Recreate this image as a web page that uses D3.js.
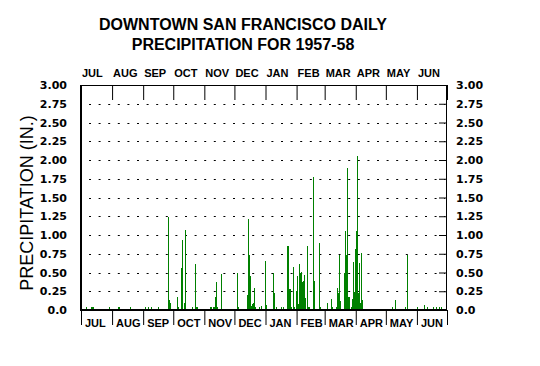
<!DOCTYPE html>
<html>
<head>
<meta charset="utf-8">
<script src="https://cdn.jsdelivr.net/npm/d3@7"></script>
<style>
body { margin: 0; background: #fff; }
text { font-family: "Liberation Sans", Arial, sans-serif; }
</style>
</head>
<body>
<div id="vis"></div>
<script>
// daily totals (inches), only the days with rain
var rainDays = [
	"1957-07-06","1957-07-11","1957-07-12","1957-07-13","1957-07-29",
	"1957-08-07","1957-08-08","1957-08-19",
	"1957-09-03","1957-09-06","1957-09-09","1957-09-16","1957-09-26","1957-09-27","1957-09-28",
	"1957-10-05","1957-10-06","1957-10-09","1957-10-10","1957-10-12","1957-10-13","1957-10-20","1957-10-23","1957-10-24","1957-10-25",
	"1957-11-07","1957-11-08","1957-11-10","1957-11-11","1957-11-12","1957-11-13","1957-11-14","1957-11-18",
	"1957-12-04","1957-12-05","1957-12-14","1957-12-15","1957-12-16","1957-12-17","1957-12-18","1957-12-19","1957-12-20","1957-12-21","1957-12-22","1957-12-26","1957-12-28",
	"1958-01-01","1958-01-02","1958-01-09","1958-01-10","1958-01-12","1958-01-17","1958-01-19","1958-01-23","1958-01-24","1958-01-25","1958-01-26","1958-01-27","1958-01-29","1958-01-30",
	"1958-02-01","1958-02-02","1958-02-03","1958-02-04","1958-02-05","1958-02-06","1958-02-07","1958-02-08","1958-02-09","1958-02-10","1958-02-12","1958-02-13","1958-02-14","1958-02-18","1958-02-19","1958-02-24","1958-02-25",
	"1958-03-04","1958-03-08","1958-03-09","1958-03-13","1958-03-14","1958-03-15","1958-03-16","1958-03-17","1958-03-21","1958-03-22","1958-03-23","1958-03-24","1958-03-25","1958-03-26","1958-03-28","1958-03-29","1958-03-30","1958-03-31",
	"1958-04-01","1958-04-02","1958-04-03","1958-04-04","1958-04-05","1958-04-06","1958-04-07","1958-04-08",
	"1958-05-08","1958-05-11","1958-05-21","1958-05-23",
	"1958-06-02","1958-06-09","1958-06-12","1958-06-18","1958-06-21","1958-06-24","1958-06-26"
];
var rainInches = [
	0.01,0.01,0.02,0.01,0.01,
	0.01,0.01,0.01,
	0.01,0.01,0.01,0.01,1.24,0.13,0.09,
	0.17,0.01,0.56,0.93,0.09,1.07,0.04,0.61,0.02,0.02,
	0.03,0.04,0.04,0.03,0.17,0.37,0.04,0.48,
	0.50,0.01,0.20,1.21,0.73,0.46,0.05,0.08,0.10,0.29,0.04,0.04,0.05,
	0.66,0.07,0.50,0.23,0.03,0.02,0.02,0.85,0.86,0.28,0.28,0.02,0.58,0.01,
	0.26,0.46,0.08,0.62,0.50,0.51,0.37,0.39,0.47,0.16,0.85,0.03,0.01,1.77,0.39,0.89,0.04,
	0.09,0.15,0.04,0.01,0.29,0.23,0.73,0.12,0.50,1.05,0.74,1.90,0.17,0.17,0.04,0.15,0.64,0.24,
	0.82,1.05,2.05,0.23,0.63,0.10,0.76,0.13,
	0.02,0.13,0.01,0.73,
	0.02,0.07,0.01,0.01,0.01,0.01,0.01
];
var monthNames = ["JUL","AUG","SEP","OCT","NOV","DEC","JAN","FEB","MAR","APR","MAY","JUN"];
var yTicks = [0, 0.25, 0.5, 0.75, 1, 1.25, 1.5, 1.75, 2, 2.25, 2.5, 2.75, 3];
var yTickLabels = ["0.0","0.25","0.50","0.75","1.00","1.25","1.50","1.75","2.00","2.25","2.50","2.75","3.00"];

var W = 540, H = 366;
var plotL = 81, plotR = 447, plotT = 85, plotB = 310;

var parse = d3.timeParse("%Y-%m-%d");
var start = new Date(1957, 6, 1), end = new Date(1958, 6, 1);

var x = d3.scaleTime().domain([start, end]).range([plotL, plotR]);
var y = d3.scaleLinear().domain([0, 3]).range([plotB, plotT]);

var svg = d3.select("#vis").append("svg")
	.attr("width", W)
	.attr("height", H);

var data = rainDays.map(function(d, i){ return {date: parse(d), v: rainInches[i]}; });
var months = d3.timeMonth.range(start, end);

// title
svg.append("text")
	.attr("x", 243).attr("y", 30)
	.attr("text-anchor", "middle")
	.style("font-size", "16px").style("font-weight", "bold")
	.text("DOWNTOWN SAN FRANCISCO DAILY");
svg.append("text")
	.attr("x", 243).attr("y", 50)
	.attr("text-anchor", "middle")
	.style("font-size", "16px").style("font-weight", "bold")
	.text("PRECIPITATION FOR 1957-58");

// dotted grid
svg.selectAll(".grid")
	.data(yTicks.slice(1, -1))
	.enter().append("line")
		.attr("class", "grid")
		.attr("x1", 89).attr("x2", plotR - 2)
		.attr("y1", function(d){ return Math.round(y(d)) + 0.5; })
		.attr("y2", function(d){ return Math.round(y(d)) + 0.5; })
		.attr("stroke", "#000")
		.attr("stroke-dasharray", "2,7.6");

// bars (traces kept visible just above the axis line)
svg.selectAll(".bar")
	.data(data)
	.enter().append("rect")
		.attr("class", "bar")
		.attr("fill", "#008000")
		.attr("shape-rendering", "crispEdges")
		.attr("x", function(d){ return Math.floor(x(d.date)); })
		.attr("width", 1)
		.attr("y", function(d){ return Math.min(y(d.v), plotB - 3); })
		.attr("height", function(d){ return Math.max(plotB - y(d.v), 3); });

// month ticks, top (inward) and bottom (outward)
var topAxis = svg.append("g")
	.attr("transform", "translate(0," + plotT + ")")
	.call(d3.axisTop(x).tickValues(months.concat([end])).tickSize(-15).tickFormat(""));
topAxis.select(".domain").remove();

var botAxis = svg.append("g")
	.attr("transform", "translate(0," + plotB + ")")
	.call(d3.axisBottom(x).tickValues(months.concat([end])).tickSize(15).tickFormat(""));
botAxis.select(".domain").remove();

svg.selectAll(".mtop")
	.data(months)
	.enter().append("text")
		.attr("class", "mtop")
		.attr("x", function(d){ return x(d) + 1; })
		.attr("y", 77)
		.style("font-size", "11px").style("font-weight", "bold")
		.text(function(d, i){ return monthNames[i]; });

svg.selectAll(".mbot")
	.data(months)
	.enter().append("text")
		.attr("class", "mbot")
		.attr("x", function(d){ return x(d) + 4; })
		.attr("y", 327)
		.style("font-size", "11px").style("font-weight", "bold")
		.text(function(d, i){ return monthNames[i]; });

// y axes
var fmt = function(d){ return yTickLabels[yTicks.indexOf(d)]; };
var yl = svg.append("g")
	.attr("transform", "translate(" + plotL + ",0)")
	.call(d3.axisLeft(y).tickValues(yTicks).tickSize(0).tickPadding(14).tickFormat(fmt));
yl.select(".domain").remove();
var yr = svg.append("g")
	.attr("transform", "translate(" + plotR + ",0)")
	.call(d3.axisRight(y).tickValues(yTicks).tickSizeInner(-8).tickSizeOuter(0).tickPadding(9).tickFormat(fmt));
yr.select(".domain").remove();
svg.selectAll(".tick text")
	.style("font-family", '"DejaVu Sans", Verdana, sans-serif')
	.style("font-size", "11px").style("font-weight", "bold")
	.attr("fill", "#000");

// frame
svg.append("line").attr("x1", plotL).attr("x2", plotR).attr("y1", plotT + 0.5).attr("y2", plotT + 0.5).attr("stroke", "#000");
svg.append("line").attr("x1", plotR - 0.5).attr("x2", plotR - 0.5).attr("y1", plotT).attr("y2", plotB).attr("stroke", "#000");
svg.append("line").attr("x1", plotL).attr("x2", plotL).attr("y1", plotT).attr("y2", plotB + 1).attr("stroke", "#000").attr("stroke-width", 2);
svg.append("line").attr("x1", plotL - 1).attr("x2", plotR).attr("y1", plotB).attr("y2", plotB).attr("stroke", "#000").attr("stroke-width", 2);

// y title
svg.append("text")
	.attr("transform", "translate(33," + 203 + ") rotate(-90)")
	.attr("text-anchor", "middle")
	.style("font-size", "18px")
	.text("PRECIPITATION (IN.)");
</script>
</body>
</html>
